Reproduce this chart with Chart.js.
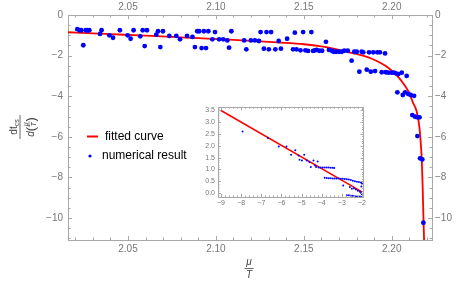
<!DOCTYPE html>
<html>
<head>
<meta charset="utf-8">
<title>dt_cs vs mu/T</title>
<style>
  body { margin: 0; background: #fff; }
  #wrap { position: relative; width: 463px; height: 286px; }
  #main { position: absolute; left: 0; top: 0; }
  #inset { position: absolute; left: 196px; top: 100px; }
</style>
</head>
<body>
<div id="wrap">
  <canvas id="main" width="463" height="286"></canvas>
  <canvas id="inset" width="172" height="112"></canvas>
</div>

<script src="https://cdn.jsdelivr.net/npm/chart.js"></script>
<script>
// main plot data
const pointX = [2.0212,2.0225,2.0235,2.0246,2.0261,2.0271,2.0280,2.0341,2.0350,2.0394,
  2.0415,2.0454,2.0498,2.0515,2.0532,2.0570,2.0584,2.0595,2.0608,2.0661,
  2.0671,2.0684,2.0699,2.0735,2.0775,2.0796,2.0836,2.0867,2.0881,2.0894,
  2.0905,2.0919,2.0932,2.0944,2.0957,2.0980,2.0995,2.1018,2.1042,2.1065,
  2.1075,2.1088,2.1161,2.1173,2.1199,2.1222,2.1245,2.1254,2.1273,2.1288,
  2.1301,2.1314,2.1338,2.1357,2.1370,2.1405,2.1439,2.1449,2.1458,2.1481,
  2.1496,2.1509,2.1524,2.1543,2.1553,2.1563,2.1573,2.1588,2.1604,2.1626,
  2.1643,2.1659,2.1670,2.1683,2.1700,2.1716,2.1730,2.1750,2.1772,2.1787,
  2.1801,2.1816,2.1829,2.1838,2.1858,2.1871,2.1881,2.1895,2.1905,2.1918,
  2.1933,2.1943,2.1962,2.1966,2.1981,2.2000,2.2013,2.2024,2.2038,2.2057,
  2.2085,2.2032,2.2063,2.2076,2.2094,2.2108,2.2127,2.2117,2.2133,2.2146,
  2.2158,2.2146,2.2161,2.2174,2.2180];
const pointY = [-0.70,-0.75,-0.75,-1.49,-0.75,-0.75,-0.75,-0.93,-0.75,-1.00,
  -1.12,-0.75,-1.00,-1.17,-0.75,-1.05,-0.75,-1.53,-0.75,-0.97,
  -0.80,-1.58,-0.80,-1.03,-1.03,-1.20,-1.03,-1.08,-1.58,-0.80,
  -0.80,-1.63,-0.80,-1.63,-0.80,-1.20,-0.84,-1.20,-1.20,-1.25,
  -1.61,-0.80,-1.25,-1.69,-1.25,-1.25,-1.28,-0.84,-1.66,-0.84,
  -1.69,-0.84,-1.69,-1.28,-1.66,-1.17,-1.69,-0.87,-1.69,-1.74,
  -0.84,-1.74,-1.77,-0.84,-1.77,-1.74,-1.72,-1.76,-1.76,-1.32,
  -1.72,-1.76,-1.81,-1.81,-1.81,-1.81,-1.76,-1.76,-2.25,-1.81,
  -1.81,-2.79,-1.81,-1.84,-2.69,-1.84,-2.79,-1.84,-2.76,-1.84,
  -1.84,-2.82,-1.89,-2.82,-2.84,-2.84,-2.84,-2.87,-2.91,-2.84,
  -3.00,-3.81,-3.94,-3.81,-3.89,-3.94,-3.98,-4.93,-5.01,-5.04,
  -5.04,-5.96,-7.06,-7.11,-10.23];

const curveX = [2.0159,2.030,2.045,2.060,2.075,2.090,2.105,2.120,2.135,2.150,
  2.160,2.170,2.180,2.188,2.194,2.198,2.201,2.204,2.207,2.210,
  2.212,2.2142,2.2157,2.2165,2.2171,2.2176,2.2180,2.2184];
const curveY = [-0.85,-0.90,-0.96,-1.02,-1.08,-1.14,-1.20,-1.27,-1.35,-1.44,
  -1.55,-1.72,-1.92,-2.13,-2.38,-2.60,-2.82,-3.08,-3.42,-3.85,
  -4.30,-4.75,-5.50,-6.30,-7.15,-8.50,-9.90,-11.10];

const xTicks = [2.05, 2.10, 2.15, 2.20];
const yTicks = [0, -2, -4, -6, -8, -10];

// inset data (log-log)
const insetX = [-7.93,-6.67,-6.13,-5.75,-5.52,-5.31,-5.15,-5.10,-4.98,-4.87,-4.74,-4.61,-4.54,-4.41,-4.33,-4.28,-4.20,
  -4.15,-4.05,-3.95,-3.85,-3.75,-3.65,-3.55,-3.45,-3.38,
  -3.85,-3.75,-3.65,-3.55,-3.45,-3.35,-3.25,-3.15,-3.05,-2.95,-2.85,
  -2.75,-2.65,-2.55,-2.45,-2.35,-2.25,-2.15,-2.05,
  -2.93,-2.60,-2.50,-2.40,-2.30,-2.20,-2.10,-2.05,-2.00,
  -2.75,-2.65,-2.55,-2.45,-2.35,-2.25,-2.10,-2.00,
  -2.03,-2.00];
const insetY = [2.61,2.33,1.97,1.97,1.62,1.81,1.59,1.41,1.38,1.62,1.38,1.31,1.10,1.38,1.17,1.10,1.34,
  1.08,1.08,1.08,1.08,1.08,1.08,1.07,1.07,1.06,
  0.65,0.64,0.63,0.63,0.62,0.62,0.61,0.61,0.60,0.60,0.59,
  0.58,0.57,0.55,0.52,0.50,0.48,0.47,0.45,
  0.32,0.25,0.18,0.20,0.15,0.10,0.05,0.00,-0.05,
  -0.10,-0.10,-0.12,-0.12,-0.14,-0.15,-0.15,-0.17,
  0.28,0.40];
const insetLineX = [-9, -2];
const insetLineY = [3.5, 0.05];
const insetXTicks = [-9, -8, -7, -6, -5, -4, -3, -2];
const insetYTicks = [0, 0.5, 1, 1.5, 2, 2.5, 3, 3.5];

const FONT = '"Liberation Sans", Arial, sans-serif';
const FRAME = '#a8a8a8';
const TICKTXT = '#777';
const minus = v => (v < 0 ? '\u2212' + Math.abs(v) : String(v));

// inward tick marks on all four sides, like a framed plot
const frameTicks = {
  id: 'frameTicks',
  afterDatasetsDraw(chart, args, o) {
    const { ctx, chartArea: a } = chart;
    const sx = chart.scales.x, sy = chart.scales.y;
    ctx.save();
    ctx.strokeStyle = o.color;
    ctx.lineWidth = 1;
    ctx.beginPath();
    const xMark = (v, len) => {
      const p = Math.round(sx.getPixelForValue(v)) + 0.5;
      ctx.moveTo(p, a.bottom); ctx.lineTo(p, a.bottom - len);
      ctx.moveTo(p, a.top); ctx.lineTo(p, a.top + len);
    };
    const yMark = (v, len) => {
      const p = Math.round(sy.getPixelForValue(v)) + 0.5;
      ctx.moveTo(a.left, p); ctx.lineTo(a.left + len, p);
      ctx.moveTo(a.right, p); ctx.lineTo(a.right - len, p);
    };
    for (let k = Math.ceil(sx.min / o.xMinor - 1e-6); k * o.xMinor <= sx.max + 1e-9; k++) xMark(k * o.xMinor, o.minor);
    for (let k = Math.ceil(sy.min / o.yMinor - 1e-6); k * o.yMinor <= sy.max + 1e-9; k++) yMark(k * o.yMinor, o.minor);
    o.xMajor.forEach(v => xMark(v, o.major));
    o.yMajor.forEach(v => yMark(v, o.major));
    ctx.stroke();
    ctx.restore();
  }
};

// axis titles (fractions) and the legend box
const mainDecor = {
  id: 'mainDecor',
  afterDraw(chart) {
    const ctx = chart.ctx;
    const ds = chart.data.datasets;
    ctx.save();

    // x title: mu over T
    ctx.fillStyle = '#444';
    ctx.strokeStyle = '#444';
    ctx.lineWidth = 0.8;
    ctx.textAlign = 'center';
    ctx.textBaseline = 'middle';
    ctx.font = 'italic 10px ' + FONT;
    ctx.fillText('\u03bc', 249, 262);
    ctx.beginPath(); ctx.moveTo(244.5, 268.5); ctx.lineTo(253.5, 268.5); ctx.stroke();
    ctx.fillText('T', 249, 275);

    // y title: dt_cs over d(mu/T), rotated
    ctx.save();
    ctx.translate(19.5, 127);
    ctx.rotate(-Math.PI / 2);
    ctx.textAlign = 'left';
    ctx.textBaseline = 'alphabetic';
    ctx.font = '10px ' + FONT;
    const w1 = ctx.measureText('dt').width;
    ctx.font = '7px ' + FONT;
    const w2 = ctx.measureText('cs').width;
    let x0 = -(w1 + w2) / 2;
    ctx.font = '10px ' + FONT;
    ctx.fillText('dt', x0, -3);
    ctx.font = '7px ' + FONT;
    ctx.fillText('cs', x0 + w1, -1);
    ctx.beginPath(); ctx.moveTo(-12, 0.5); ctx.lineTo(12, 0.5); ctx.stroke();
    // denominator
    ctx.font = 'italic 10px ' + FONT;
    const wd = ctx.measureText('d').width;
    ctx.font = '13px ' + FONT;
    const wp = ctx.measureText('(').width;
    const wf = 5.5;
    x0 = -(wd + 2 * wp + wf) / 2;
    ctx.font = 'italic 10px ' + FONT;
    ctx.fillText('d', x0, 14);
    ctx.font = '13px ' + FONT;
    ctx.fillText('(', x0 + wd, 15.5);
    ctx.fillText(')', x0 + wd + wp + wf, 15.5);
    ctx.font = 'italic 6.5px ' + FONT;
    ctx.textAlign = 'center';
    const fc = x0 + wd + wp + wf / 2;
    ctx.fillText('\u03bc', fc, 8);
    ctx.beginPath(); ctx.moveTo(fc - 2.8, 9.5); ctx.lineTo(fc + 2.8, 9.5); ctx.lineWidth = 0.6; ctx.stroke();
    ctx.fillText('T', fc, 16);
    ctx.restore();

    // legend
    ctx.textAlign = 'left';
    ctx.textBaseline = 'middle';
    ctx.font = '12px ' + FONT;
    ctx.strokeStyle = ds[1].borderColor;
    ctx.lineWidth = 2;
    ctx.beginPath(); ctx.moveTo(87, 136.5); ctx.lineTo(98, 136.5); ctx.stroke();
    ctx.fillStyle = '#000';
    ctx.fillText(ds[1].label, 105, 137);
    ctx.fillStyle = ds[0].backgroundColor;
    ctx.beginPath(); ctx.arc(90, 156, 1.6, 0, Math.PI * 2); ctx.fill();
    ctx.fillStyle = '#000';
    ctx.fillText(ds[0].label, 102, 156);
    ctx.restore();
  }
};

function axis(pos, size, min, max, ticks, fmt, showLabels, pad, fontSize) {
  const vertical = pos === 'left' || pos === 'right';
  return {
    type: 'linear',
    position: pos,
    min: min,
    max: max,
    afterFit(s) { if (vertical) s.width = size; else s.height = size; },
    afterBuildTicks(s) { s.ticks = ticks.map(v => ({ value: v })); },
    grid: { display: false, drawTicks: false },
    border: { display: true, color: FRAME, width: 1 },
    ticks: {
      display: showLabels,
      padding: pad,
      color: TICKTXT,
      font: { family: FONT, size: fontSize },
      callback: fmt
    }
  };
}

const xFmt = v => v.toFixed(2);
const X_MIN = 2.0159, X_MAX = 2.2229, Y_MIN = -11.08, Y_MAX = 0;

new Chart(document.getElementById('main'), {
  type: 'scatter',
  data: {
    datasets: [
      {
        label: 'numerical result',
        data: pointX.map((x, i) => ({ x: x, y: pointY[i] })),
        backgroundColor: '#0000ff',
        borderWidth: 0,
        pointRadius: 2.4,
        order: 0
      },
      {
        label: 'fitted curve',
        data: curveX.map((x, i) => ({ x: x, y: curveY[i] })),
        showLine: true,
        borderColor: '#ff0000',
        borderWidth: 1.8,
        pointRadius: 0,
        cubicInterpolationMode: 'monotone',
        order: 1
      }
    ]
  },
  options: {
    responsive: false,
    animation: false,
    layout: { padding: 0 },
    scales: {
      x: axis('bottom', 46, X_MIN, X_MAX, xTicks, xFmt, true, 3, 10),
      x2: axis('top', 15, X_MIN, X_MAX, xTicks, xFmt, true, 2, 10),
      y: axis('left', 68, Y_MIN, Y_MAX, yTicks, minus, true, 5, 10),
      y2: axis('right', 31, Y_MIN, Y_MAX, yTicks, minus, true, 3, 10)
    },
    plugins: {
      legend: { display: false },
      tooltip: { enabled: false },
      frameTicks: { color: FRAME, xMajor: xTicks, yMajor: yTicks, xMinor: 0.01, yMinor: 0.5, major: 4, minor: 2.5 }
    }
  },
  plugins: [frameTicks, mainDecor]
});

const insetFmtY = v => v.toFixed(1);

new Chart(document.getElementById('inset'), {
  type: 'scatter',
  data: {
    datasets: [
      {
        label: 'points',
        data: insetX.map((x, i) => ({ x: x, y: insetY[i] })),
        backgroundColor: '#0000ff',
        borderWidth: 0,
        pointRadius: 1,
        order: 0
      },
      {
        label: 'line',
        data: insetLineX.map((x, i) => ({ x: x, y: insetLineY[i] })),
        showLine: true,
        borderColor: '#ff0000',
        borderWidth: 1.5,
        pointRadius: 0,
        order: 1
      }
    ]
  },
  options: {
    responsive: false,
    animation: false,
    layout: { padding: 0 },
    scales: {
      x: axis('bottom', 15, -9.15, -1.92, insetXTicks, minus, true, 2, 7),
      x2: axis('top', 7, -9.15, -1.92, insetXTicks, minus, false, 0, 7),
      y: axis('left', 22, -0.17, 3.64, insetYTicks, insetFmtY, true, 3, 7),
      y2: axis('right', 4, -0.17, 3.64, insetYTicks, insetFmtY, false, 0, 7)
    },
    plugins: {
      legend: { display: false },
      tooltip: { enabled: false },
      frameTicks: { color: FRAME, xMajor: insetXTicks, yMajor: insetYTicks, xMinor: 0.2, yMinor: 0.1, major: 3, minor: 1.5 }
    }
  },
  plugins: [frameTicks]
});
</script>
</body>
</html>
